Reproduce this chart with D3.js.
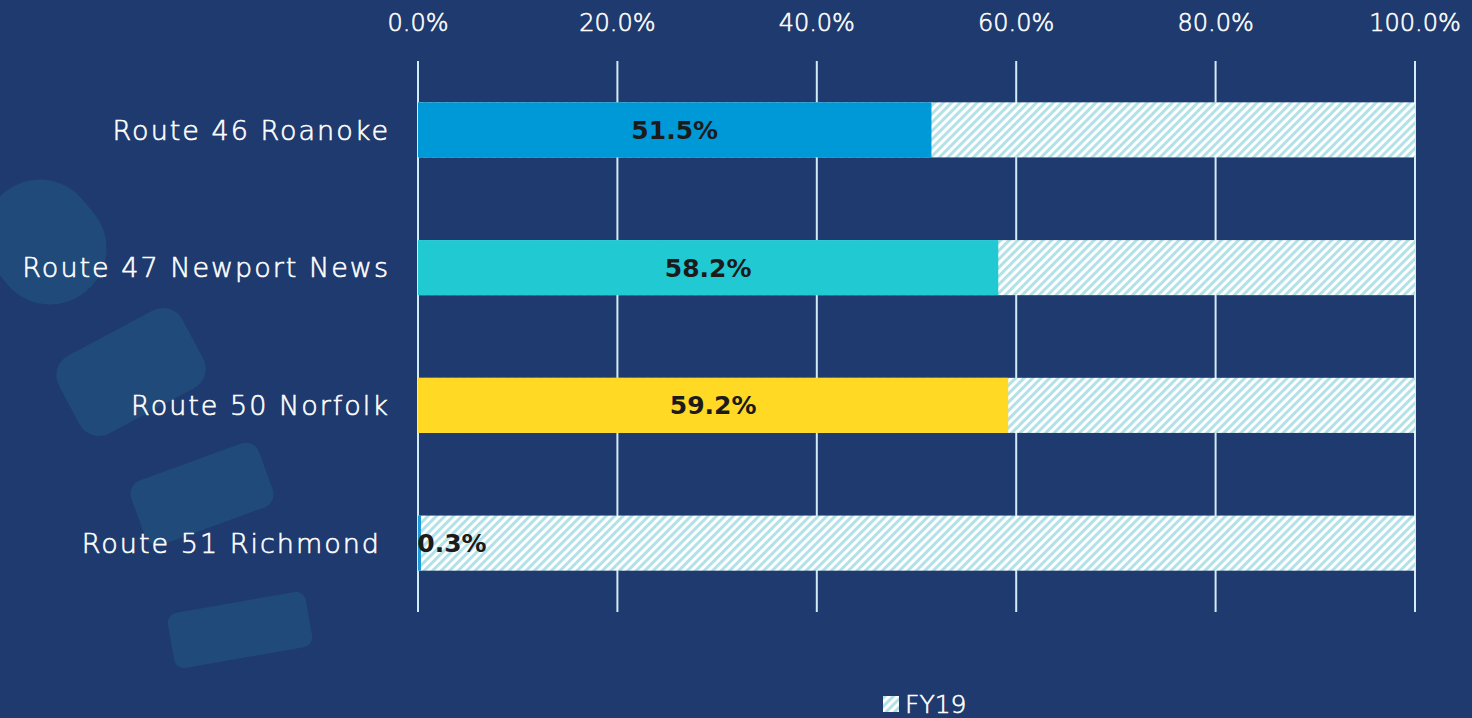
<!DOCTYPE html>
<html>
<head>
<meta charset="utf-8">
<script src="https://cdn.jsdelivr.net/npm/d3@7"></script>
<style>
  html, body { margin: 0; padding: 0; background: #1e3a6e; }
  svg text { font-family: "DejaVu Sans", "Open Sans", sans-serif; }
  .light { stroke: #ffffff; stroke-width: 0.6px; }
</style>
</head>
<body>
<div id="chart"></div>
<script>
// Data
const routes = ["Route 46 Roanoke", "Route 47 Newport News", "Route 50 Norfolk", "Route 51 Richmond"]
const fy19 = [51.5, 58.2, 59.2, 0.3]
const barColors = ["#0099d8", "#21c9d3", "#ffd923", "#1e9ad6"]
const xTicks = [0, 20, 40, 60, 80, 100]
const seriesName = "FY19"

const W = 1472, H = 718
const margin = { top: 61, right: 57, bottom: 106, left: 418 }

const svg = d3.select("#chart")
    .append("svg")
    .attr("width", W)
    .attr("height", H)
    .style("display", "block")

// hatch for the remaining share
const defs = svg.append("defs")
const pat = defs.append("pattern")
    .attr("id", "hatch")
    .attr("patternUnits", "userSpaceOnUse")
    .attr("width", 6).attr("height", 6)
    .attr("patternTransform", "rotate(45)")
pat.append("rect").attr("width", 6).attr("height", 6).attr("fill", "#ffffff")
pat.append("rect").attr("width", 3).attr("height", 6).attr("fill", "#b2e2e8")

// background decoration
svg.append("rect").attr("width", W).attr("height", H).attr("fill", "#1e3a6e")
const deco = [
    { cx: 45, cy: 242, w: 112, h: 128, r: 55, a: -40 },
    { cx: 131, cy: 372, w: 140, h: 88, r: 22, a: -28 },
    { cx: 202, cy: 494, w: 136, h: 68, r: 14, a: -20 },
    { cx: 240, cy: 630, w: 140, h: 56, r: 10, a: -10 }
]
svg.append("g").selectAll("rect")
    .data(deco)
    .join("rect")
    .attr("x", d => -d.w / 2).attr("y", d => -d.h / 2)
    .attr("width", d => d.w).attr("height", d => d.h)
    .attr("rx", d => d.r)
    .attr("transform", d => `translate(${d.cx},${d.cy}) rotate(${d.a})`)
    .attr("fill", "#1f4a79")

const x = d3.scaleLinear().domain([0, 100]).range([margin.left, W - margin.right])
const y = d3.scaleBand().domain(routes)
    .range([margin.top, H - margin.bottom])
    .paddingInner(0.6).paddingOuter(0.3)

// gridlines
svg.append("g").selectAll("line")
    .data(xTicks)
    .join("line")
    .attr("x1", d => x(d)).attr("x2", d => x(d))
    .attr("y1", margin.top).attr("y2", H - margin.bottom)
    .attr("stroke", "#d2ebf6")
    .attr("stroke-width", 2)

// top tick labels
svg.append("g").selectAll("text")
    .data(xTicks)
    .join("text")
    .attr("class", "light")
    .attr("x", d => x(d))
    .attr("y", 31)
    .attr("text-anchor", "middle")
    .attr("fill", "#ffffff")
    .attr("font-size", 24)
    .attr("font-weight", 200)
    .text(d => d.toFixed(1) + "%")

const rows = routes.map((r, i) => ({ route: r, value: fy19[i], color: barColors[i] }))

// hatched 100% background bars
svg.append("g").selectAll("rect")
    .data(rows)
    .join("rect")
    .attr("x", x(0))
    .attr("y", d => y(d.route))
    .attr("width", x(100) - x(0))
    .attr("height", y.bandwidth())
    .attr("fill", "url(#hatch)")

// value bars
svg.append("g").selectAll("rect")
    .data(rows)
    .join("rect")
    .attr("x", x(0))
    .attr("y", d => y(d.route))
    .attr("width", d => Math.max(x(d.value) - x(0), 2))
    .attr("height", y.bandwidth())
    .attr("fill", d => d.color)

// value labels
svg.append("g").selectAll("text")
    .data(rows)
    .join("text")
    .attr("x", d => Math.max((x(0) + x(d.value)) / 2, x(0) + 34))
    .attr("y", d => y(d.route) + y.bandwidth() / 2)
    .attr("dy", "0.36em")
    .attr("text-anchor", "middle")
    .attr("fill", "#1b1b1b")
    .attr("font-size", 25)
    .attr("font-weight", 700)
    .text(d => d.value.toFixed(1) + "%")

// category labels
svg.append("g").selectAll("text")
    .data(routes)
    .join("text")
    .attr("class", "light")
    .attr("x", (d, i) => i === routes.length - 1 ? 381 : 390)
    .attr("y", d => y(d) + y.bandwidth() / 2)
    .attr("dy", "0.36em")
    .attr("text-anchor", "end")
    .attr("fill", "#ffffff")
    .attr("font-size", 27)
    .attr("font-weight", 200)
    .attr("letter-spacing", 2)
    .text(d => d)

// legend
const lg = svg.append("g").attr("transform", "translate(883,696)")
lg.append("rect").attr("width", 16).attr("height", 16).attr("fill", "url(#hatch)")
lg.append("text")
    .attr("class", "light")
    .attr("x", 22).attr("y", 7).attr("dy", "0.38em")
    .attr("fill", "#ffffff")
    .attr("font-size", 25)
    .attr("font-weight", 200)
    .text(seriesName)
</script>
</body>
</html>
